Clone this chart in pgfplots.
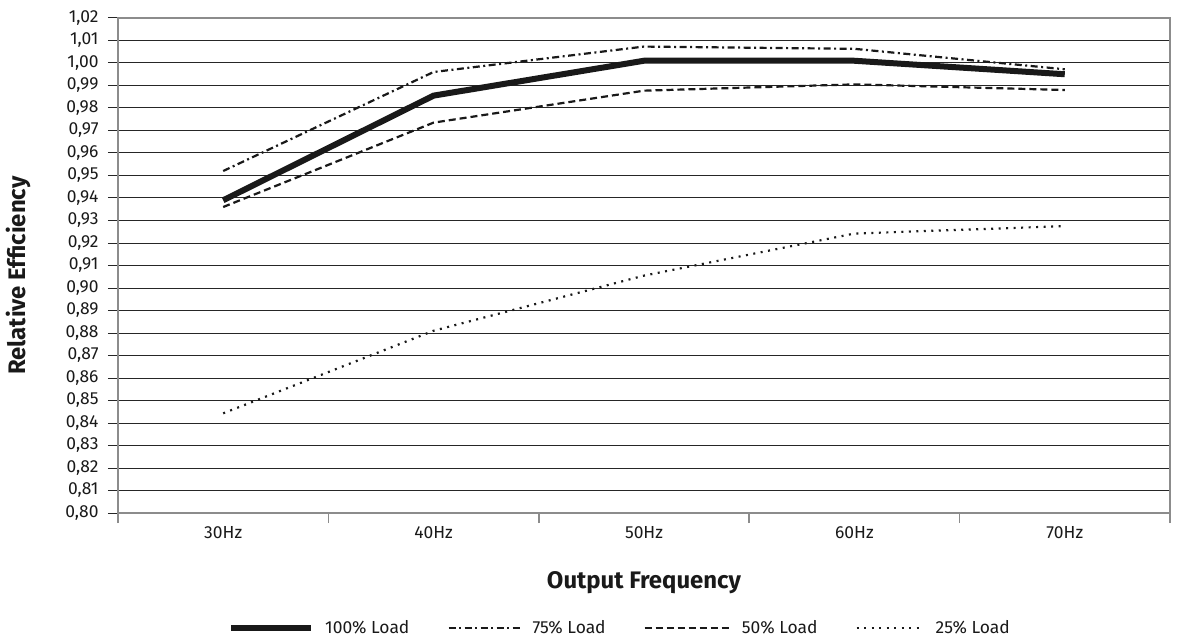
\documentclass[border=0pt]{standalone}
\usepackage{fontspec}
\setmainfont{Fira Sans}
\usepackage{pgfplots}
\usepackage{pgfplotstable}
\pgfplotsset{compat=1.18}

% relative efficiency vs. output frequency, one column per load level
\pgfplotstableread{
x  full    threeq  half    quarter
0  0.9390  0.9520  0.9360  0.8443
1  0.9855  0.9960  0.9735  0.8810
2  1.0010  1.0073  0.9877  0.9055
3  1.0010  1.0063  0.9905  0.9242
4  0.9950  0.9972  0.9880  0.9275
}\efftable

\newcommand\ticksize{\fontsize{17.5}{20}\selectfont}
\newcommand\labelsize{\bfseries\fontsize{24}{28}\selectfont}

% legend sample line of a given length
\pgfplotsset{
  legline/.style={legend image code/.code={\draw[##1] (0bp,0bp) -- (#1,0bp);}},
}

\begin{document}
\begin{tikzpicture}
\begin{axis}[
  at={(0,0)}, anchor=south west,
  scale only axis, width=1052bp, height=495bp,
  xmin=-0.5, xmax=4.5, ymin=0.80, ymax=1.02,
  ytick={0.80,0.81,0.82,0.83,0.84,0.85,0.86,0.87,0.88,0.89,0.90,0.91,
         0.92,0.93,0.94,0.95,0.96,0.97,0.98,0.99,1.00,1.01,1.02},
  xtick={0,1,2,3,4},
  xticklabels={30Hz,40Hz,50Hz,60Hz,70Hz},
  minor xtick={-0.5,0.5,1.5,2.5,3.5,4.5},
  xtick pos=left, ytick pos=left,
  tick align=outside,
  major tick length=10bp, minor tick length=10bp,
  major x tick style={draw=none},
  minor x tick style={black!45, line width=1.5bp},
  major y tick style={black!85, line width=1bp},
  ymajorgrids,
  major grid style={black!85, line width=1bp},
  axis line style={black!45, line width=1.5bp},
  yticklabel style={
    /pgf/number format/fixed,
    /pgf/number format/fixed zerofill,
    /pgf/number format/precision=2,
    /pgf/number format/use comma,
    /pgf/number format/assume math mode=true,
    xshift=-6bp},
  tick label style={font=\ticksize, text=black!90},
  xlabel={Output Frequency},
  ylabel={Relative Efficiency},
  every axis x label/.style={at={(rel axis cs:0.5,0)}, yshift=-70bp,
    anchor=center, font=\labelsize, text=black!90},
  every axis y label/.style={at={(rel axis cs:0,0.5)}, xshift=-100bp,
    yshift=-10bp, rotate=90, anchor=center, font=\labelsize, text=black!90},
  legend columns=4,
  legend style={at={(rel axis cs:0.1046,-0.232)}, anchor=west, draw=none,
    inner sep=0pt, font=\ticksize, text=black!90,
    /tikz/every odd column/.append style={column sep=9bp},
    /tikz/every even column/.append style={column sep=36bp},
    /tikz/column 6/.append style={column sep=54bp}},
]
\addplot[black!90, line width=6bp, legline=80bp]
  table[x=x, y=full] {\efftable};
\addlegendentry{100\% Load}
\addplot[black!90, line width=2.2bp,
  dash pattern=on 7bp off 3.5bp on 2bp off 3.5bp, legline=72bp]
  table[x=x, y=threeq] {\efftable};
\addlegendentry{75\% Load}
\addplot[black!90, line width=2.2bp,
  dash pattern=on 7bp off 4bp, legline=85bp]
  table[x=x, y=half] {\efftable};
\addlegendentry{50\% Load}
\addplot[black!90, line width=2.2bp,
  dash pattern=on 2bp off 5.5bp, legline=67bp]
  table[x=x, y=quarter] {\efftable};
\addlegendentry{25\% Load}
\node[rotate=90, anchor=north east, inner sep=0pt,
  font=\fontsize{19.5}{22}\selectfont, text=black!90]
  at ([xshift=9bp, yshift=-2bp]rel axis cs:1,1) {175NA159.10};
\end{axis}
\pgfresetboundingbox
\useasboundingbox (-118bp,-127bp) rectangle (1079bp,513bp);
\end{tikzpicture}
\end{document}
